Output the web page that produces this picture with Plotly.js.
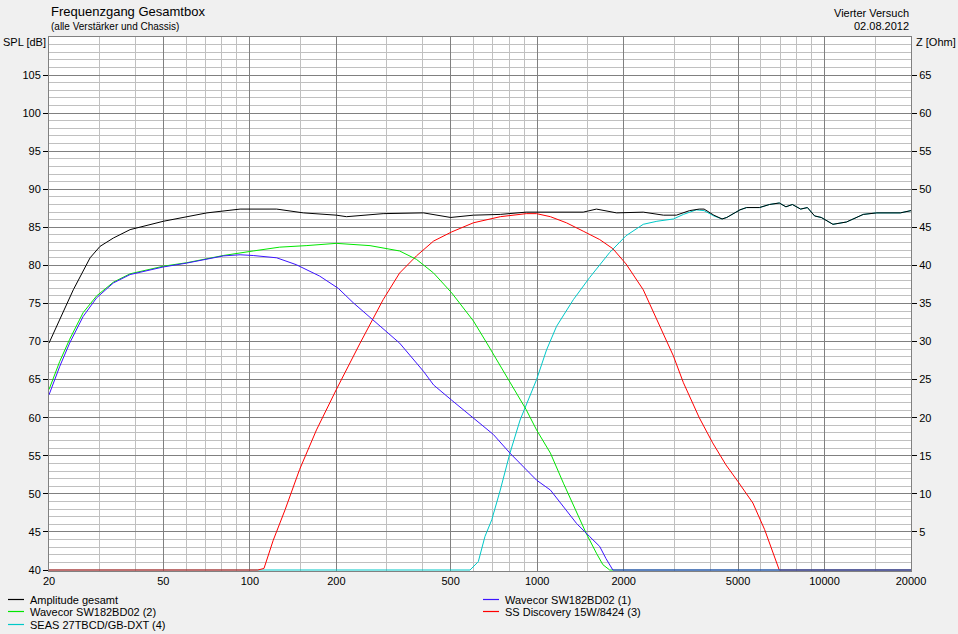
<!DOCTYPE html>
<html>
<head>
<meta charset="utf-8">
<script src="https://cdn.plot.ly/plotly-3.0.1.min.js"></script>
<style>
html,body{margin:0;padding:0;background:#f0f0f0;}
#chart{width:958px;height:634px;}
</style>
</head>
<body>
<div id="chart"></div>
<script>
// ---- data (frequency in Hz, SPL in dB) ----
const freqGesamt = [20, 22.4, 24.3, 27.8, 30.1, 33.5, 38.3, 50, 70.9, 92.5, 124, 153.6, 200, 217, 291, 402, 500, 600, 744, 916, 1446, 1608, 1890, 2340, 2752, 3050, 3392, 3666, 3810, 4120, 4400, 4570, 5080, 5356, 5940, 6430, 6960, 7340, 7730, 8260, 8720, 9240, 9740, 10700, 11920, 13640, 15200, 18360, 20000];
const splGesamt = [69.8, 73.8, 76.8, 81.0, 82.5, 83.6, 84.7, 85.8, 86.9, 87.4, 87.4, 86.9, 86.6, 86.4, 86.8, 86.9, 86.3, 86.6, 86.7, 87.0, 87.0, 87.4, 86.9, 87.0, 86.6, 86.6, 87.2, 87.4, 87.4, 86.6, 86.1, 86.3, 87.3, 87.6, 87.6, 88.0, 88.2, 87.7, 88.0, 87.4, 87.6, 86.5, 86.3, 85.4, 85.7, 86.7, 86.9, 86.9, 87.2];

const freqWoofer1 = [20, 21.8, 23.6, 26.3, 29.3, 33.5, 38.3, 50, 60.2, 80.8, 92.5, 102.8, 124, 145, 175, 203, 229, 276, 332, 402, 436, 504, 600, 704, 804, 916, 995, 1112, 1234, 1372, 1522, 1650, 1736, 1834, 20000];
const splWoofer1 = [63.0, 66.75, 69.8, 73.3, 75.75, 77.7, 78.8, 79.8, 80.3, 81.25, 81.4, 81.3, 81.0, 80.1, 78.6, 77.0, 75.1, 72.5, 69.8, 66.1, 64.3, 62.3, 60.0, 57.8, 55.35, 53.2, 51.8, 50.5, 48.3, 46.1, 44.4, 43.1, 41.5, 40, 40];

const freqWoofer2 = [20, 21.8, 23.6, 26.3, 29.3, 33.5, 38.3, 50, 60.2, 80.8, 102.8, 127, 157, 200, 262, 332, 380, 436, 504, 600, 668, 804, 916, 995, 1112, 1234, 1372, 1482, 1608, 1693, 1788, 20000];
const splWoofer2 = [63.7, 67.4, 70.3, 73.8, 76.0, 77.8, 78.9, 79.9, 80.35, 81.3, 81.9, 82.4, 82.6, 82.9, 82.6, 81.9, 80.8, 79.0, 76.4, 72.7, 69.8, 64.6, 61.05, 58.4, 55.35, 51.4, 47.5, 44.8, 42.2, 40.7, 40, 40];

const freqMid = [20, 106.6, 112, 120.6, 132.6, 149, 170.6, 200, 242, 291, 332, 380, 436, 504, 600, 744, 916, 995, 1112, 1264, 1446, 1650, 1834, 2038, 2340, 2680, 2980, 3228, 3666, 4080, 4540, 5000, 5632, 6190, 6620, 6960, 20000];
const splMid = [40, 40, 40.2, 43.9, 47.9, 53.2, 58.4, 63.7, 69.8, 75.5, 79.0, 81.25, 83.2, 84.4, 85.6, 86.4, 86.8, 86.8, 86.4, 85.6, 84.5, 83.4, 82.2, 80.2, 76.8, 72.0, 68.1, 64.6, 60.0, 56.7, 53.8, 51.6, 48.8, 45.3, 42.2, 40, 40];

const freqTweeter = [20, 584, 624, 658, 695, 744, 804, 872, 995, 1078, 1168, 1336, 1522, 1650, 1788, 2038, 2340, 2610, 2980, 3228, 3580, 3810, 4120, 4400, 4570, 5080, 5356, 5940, 6430, 6960, 7340, 7730, 8260, 8720, 9240, 9740, 10700, 11920, 13640, 15200, 18360, 20000];
const splTweeter = [40, 40, 41.1, 44.4, 46.6, 50.5, 55.35, 59.7, 65.0, 68.9, 72.0, 75.5, 78.4, 80.0, 81.7, 83.9, 85.4, 85.8, 86.1, 86.7, 87.3, 87.2, 86.5, 86.1, 86.3, 87.3, 87.6, 87.6, 88.0, 88.2, 87.7, 88.0, 87.4, 87.6, 86.5, 86.3, 85.4, 85.7, 86.7, 86.9, 86.9, 87.2];

const seriesNames = ["Amplitude gesamt", "Wavecor SW182BD02 (1)", "Wavecor SW182BD02 (2)", "SS Discovery 15W/8424 (3)", "SEAS 27TBCD/GB-DXT (4)"];
const seriesColors = ["#000000", "#3c14ff", "#00e600", "#ff0000", "#00c8c8"];

const xTickVals = [20, 50, 100, 200, 500, 1000, 2000, 5000, 10000, 20000];
const xTickText = ["20", "50", "100", "200", "500", "1000", "2000", "5000", "10000", "20000"];
const xMinorVals = [30, 40, 60, 70, 80, 90, 150, 300, 400, 600, 700, 800, 900, 1500, 3000, 4000, 6000, 7000, 8000, 9000, 15000];
const splTickVals = [40, 45, 50, 55, 60, 65, 70, 75, 80, 85, 90, 95, 100, 105];
const zTickVals = [5, 10, 15, 20, 25, 30, 35, 40, 45, 50, 55, 60, 65];

const FONT = "Liberation Sans, Arial, sans-serif";

const allX = [freqGesamt, freqWoofer1, freqWoofer2, freqMid, freqTweeter];
const allY = [splGesamt, splWoofer1, splWoofer2, splMid, splTweeter];
const drawOrder = [4, 3, 2, 1, 0];
const traces = drawOrder.map(i => ({
  type: "scatter", mode: "lines",
  x: allX[i], y: allY[i], name: seriesNames[i],
  line: {color: seriesColors[i], width: 1},
  showlegend: false, hoverinfo: "skip"
}));
// invisible trace to anchor the right (impedance) axis
traces.push({type: "scatter", mode: "lines", x: [20, 20000], y: [0, 0], yaxis: "y2",
  line: {width: 0, color: "rgba(0,0,0,0)"}, showlegend: false, hoverinfo: "skip"});

// geometry of the plot area in page pixels
const W = 958, H = 634;
const PL = 49, PR = 911, PT = 37, PB = 571;
const PW = PR - PL, PH = PB - PT;
const fx = px => (px - PL) / PW;
const fy = py => (PB - py) / PH;

// legend drawn as shapes + annotations (two columns, like the original)
const legendPos = [
  {x: 8, y: 599.5}, {x: 483, y: 599.5},
  {x: 8, y: 611.5}, {x: 483, y: 611.5},
  {x: 8, y: 624.5}
];
const shapes = [];
const annotations = [];
seriesNames.forEach((nm, i) => {
  const p = legendPos[i];
  shapes.push({type: "line", xref: "paper", yref: "paper", layer: "above",
    x0: fx(p.x), x1: fx(p.x + 16), y0: fy(p.y), y1: fy(p.y),
    line: {color: seriesColors[i], width: 1.2}});
  annotations.push({xref: "paper", yref: "paper", x: fx(p.x + 20), y: fy(p.y),
    xanchor: "left", yanchor: "middle", text: nm, showarrow: false,
    font: {family: FONT, size: 11, color: "#000"}});
});
function ann(px, py, text, anchor, size) {
  annotations.push({xref: "paper", yref: "paper", x: fx(px), y: fy(py),
    xanchor: anchor, yanchor: "middle", text: text, showarrow: false,
    font: {family: FONT, size: size, color: "#000"}});
}
ann(49, 11, "Frequenzgang Gesamtbox", "left", 13);
ann(49, 26, "(alle Verstärker und Chassis)", "left", 10);
ann(911, 13, "Vierter Versuch", "right", 11);
ann(911, 26, "02.08.2012", "right", 11);
ann(1, 42, "SPL [dB]", "left", 11);
ann(914, 42, "Z [Ohm]", "left", 11);

// 1 px of extra range below 40 dB so the curves lying on the 40 dB floor stay visible
const pxPerDb = 533 / 70;
const yLow = 40 - 1 / pxPerDb;

const layout = {
  width: W, height: H,
  paper_bgcolor: "#f0f0f0", plot_bgcolor: "#ffffff",
  margin: {l: PL, r: W - PR, t: PT, b: H - PB},
  showlegend: false,
  font: {family: FONT, size: 11, color: "#000"},
  xaxis: {
    type: "log", range: [Math.log10(20), Math.log10(20000)],
    tickmode: "array", tickvals: xTickVals, ticktext: xTickText,
    showgrid: true, gridcolor: "#808080", gridwidth: 1,
    ticks: "", zeroline: false, layer: "below traces",
    showline: true, linecolor: "#808080", linewidth: 1, mirror: true,
    tickfont: {family: FONT, size: 11, color: "#000"},
    minor: {tickmode: "array", tickvals: xMinorVals, showgrid: true, gridcolor: "#c0c0c0", gridwidth: 1, ticks: ""}
  },
  yaxis: {
    range: [yLow, 110], tickmode: "array", tickvals: splTickVals,
    showgrid: true, gridcolor: "#808080", gridwidth: 1,
    ticks: "outside", ticklen: 5, tickcolor: "#000", zeroline: false, layer: "below traces",
    showline: true, linecolor: "#808080", linewidth: 1, mirror: true,
    tickfont: {family: FONT, size: 11, color: "#000"},
    minor: {dtick: 1, tick0: 40, showgrid: true, gridcolor: "#c0c0c0", gridwidth: 1, ticks: ""}
  },
  yaxis2: {
    range: [yLow - 40, 70], overlaying: "y", side: "right",
    tickmode: "array", tickvals: zTickVals,
    showgrid: false, zeroline: false, layer: "below traces",
    ticks: "outside", ticklen: 5, tickcolor: "#000",
    tickfont: {family: FONT, size: 11, color: "#000"}
  },
  shapes: shapes,
  annotations: annotations
};
Plotly.newPlot("chart", traces, layout, {staticPlot: true, displayModeBar: false});
</script>
</body>
</html>
